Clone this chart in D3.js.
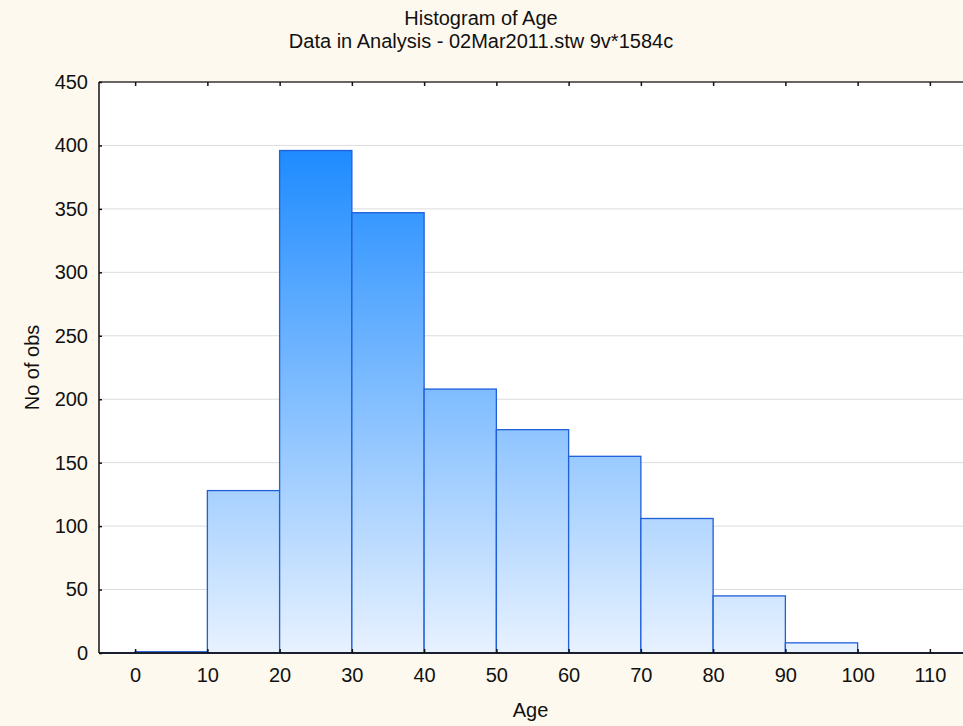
<!DOCTYPE html>
<html>
<head>
<meta charset="utf-8">
<script src="https://cdn.jsdelivr.net/npm/d3@7"></script>
<style>
  body { margin: 0; background: #fef9ef; }
  svg { display: block; font-family: "Liberation Sans", Arial, sans-serif; }
</style>
</head>
<body>
<div id="vis"></div>
<script>
// histogram bins (age, lower edge) and counts
var binStarts = [0, 10, 20, 30, 40, 50, 60, 70, 80, 90];
var binWidth = 10;
var counts = [1, 128, 396, 347, 208, 176, 155, 106, 45, 8];
var xTicks = [0, 10, 20, 30, 40, 50, 60, 70, 80, 90, 100, 110];
var yTicks = [0, 50, 100, 150, 200, 250, 300, 350, 400, 450];

var width = 963, height = 726;
var margin = { top: 82, left: 99, bottom: 73, right: -3 };
var fontSize = 20;

var svg = d3.select('#vis').append('svg')
  .attr('width', width)
  .attr('height', height);

svg.append('rect')
  .attr('width', width).attr('height', height)
  .attr('fill', '#fef9ef');

var x = d3.scaleLinear().domain([-5, 115]).range([margin.left, width - margin.right]);
var y = d3.scaleLinear().domain([0, 450]).range([height - margin.bottom, margin.top]);

// gradient spans the plot in user space so every bar shares it
var defs = svg.append('defs');
var grad = defs.append('linearGradient')
  .attr('id', 'barGrad')
  .attr('gradientUnits', 'userSpaceOnUse')
  .attr('x1', 0).attr('x2', 0)
  .attr('y1', y(396)).attr('y2', y(0));
grad.append('stop').attr('offset', '0%').attr('stop-color', '#1e8bff');
grad.append('stop').attr('offset', '100%').attr('stop-color', '#e8f2ff');

// plot background
svg.append('rect')
  .attr('x', x(-5)).attr('y', y(450))
  .attr('width', x(115) - x(-5)).attr('height', y(0) - y(450))
  .attr('fill', '#ffffff');

// grid lines
svg.append('g').selectAll('line')
  .data(yTicks.filter(function(d) { return d > 0 && d < 450; }))
  .enter().append('line')
  .attr('x1', x(-5)).attr('x2', x(115))
  .attr('y1', function(d) { return y(d); })
  .attr('y2', function(d) { return y(d); })
  .attr('stroke', '#dcdcdc')
  .attr('stroke-width', 1);

// bars
svg.append('g').selectAll('rect')
  .data(counts)
  .enter().append('rect')
  .attr('x', function(d, i) { return x(binStarts[i]); })
  .attr('y', function(d) { return y(d); })
  .attr('width', function(d, i) { return x(binStarts[i] + binWidth) - x(binStarts[i]); })
  .attr('height', function(d) { return y(0) - y(d); })
  .attr('fill', 'url(#barGrad)')
  .attr('stroke', '#1f5fd8')
  .attr('stroke-width', 1.3);

// frame
svg.append('line')
  .attr('x1', x(-5)).attr('x2', x(-5))
  .attr('y1', y(450)).attr('y2', y(0))
  .attr('stroke', '#111').attr('stroke-width', 1.5);
svg.append('line')
  .attr('x1', x(-5)).attr('x2', x(115))
  .attr('y1', y(450)).attr('y2', y(450))
  .attr('stroke', '#333').attr('stroke-width', 1.5);
svg.append('line')
  .attr('x1', x(-5)).attr('x2', x(115))
  .attr('y1', y(0)).attr('y2', y(0))
  .attr('stroke', '#1a1f2e').attr('stroke-width', 2);

// x axis (ticks point inward)
var xAxis = svg.append('g')
  .attr('transform', 'translate(0,' + y(0) + ')')
  .call(d3.axisBottom(x).tickValues(xTicks).tickSizeInner(-4).tickSizeOuter(0).tickPadding(15));
xAxis.select('.domain').remove();
xAxis.selectAll('line').attr('stroke', '#111').attr('stroke-width', 1.5);
xAxis.selectAll('text').attr('font-size', fontSize).attr('fill', '#111').attr('dy', '0.71em');

// top mirror ticks
var xTop = svg.append('g')
  .attr('transform', 'translate(0,' + y(450) + ')')
  .call(d3.axisTop(x).tickValues(xTicks).tickSizeInner(-4).tickSizeOuter(0).tickFormat(''));
xTop.select('.domain').remove();
xTop.selectAll('line').attr('stroke', '#111').attr('stroke-width', 1.5);

// y axis
var yAxis = svg.append('g')
  .attr('transform', 'translate(' + x(-5) + ',0)')
  .call(d3.axisLeft(y).tickValues(yTicks).tickSizeInner(-3).tickSizeOuter(0).tickPadding(11));
yAxis.select('.domain').remove();
yAxis.selectAll('line').attr('stroke', '#111').attr('stroke-width', 1.5);
yAxis.selectAll('text').attr('font-size', fontSize).attr('fill', '#111');

// titles
svg.append('text')
  .attr('x', 481).attr('y', 25)
  .attr('text-anchor', 'middle')
  .attr('font-size', fontSize).attr('fill', '#111')
  .text('Histogram of Age');
svg.append('text')
  .attr('x', 481).attr('y', 48)
  .attr('text-anchor', 'middle')
  .attr('font-size', fontSize).attr('fill', '#111')
  .text('Data in Analysis - 02Mar2011.stw 9v*1584c');

svg.append('text')
  .attr('x', (x(-5) + x(115)) / 2 - 2).attr('y', 717)
  .attr('text-anchor', 'middle')
  .attr('font-size', fontSize).attr('fill', '#111')
  .text('Age');

svg.append('text')
  .attr('transform', 'translate(39,' + (y(225)) + ') rotate(-90)')
  .attr('text-anchor', 'middle')
  .attr('font-size', fontSize).attr('fill', '#111')
  .text('No of obs');
</script>
</body>
</html>
